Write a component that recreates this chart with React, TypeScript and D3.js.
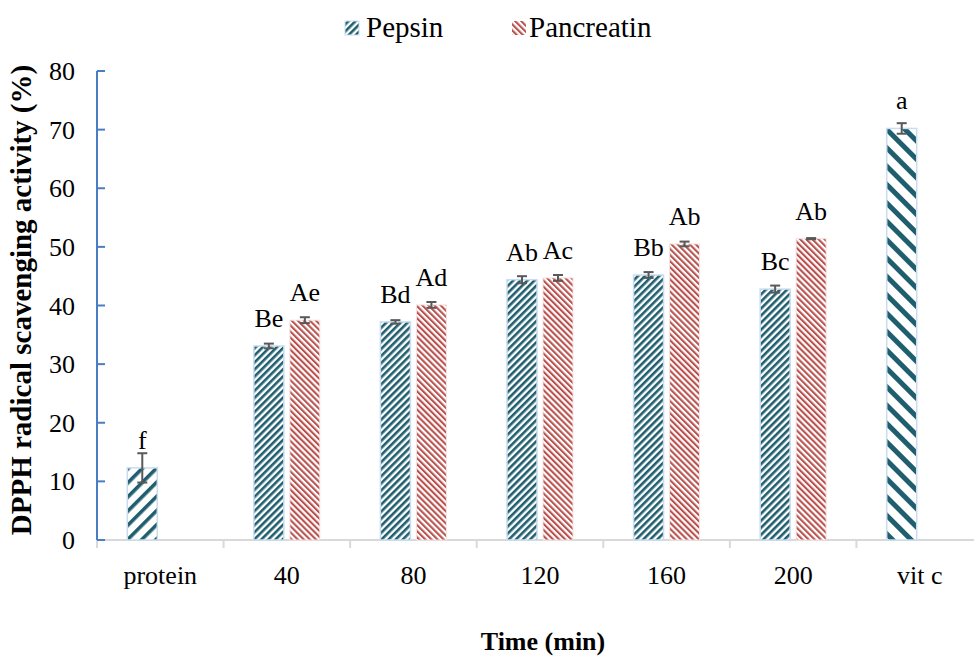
import React from "react";
import * as d3 from "d3";

const categories = ["protein", "40", "80", "120", "160", "200", "vit c"];
const pepsinValues = [12.3, 33.1, 37.2, 44.4, 45.2, 42.8, 70.2];
const pepsinErrors = [2.5, 0.4, 0.3, 0.6, 0.5, 0.6, 0.9];
const pepsinLabels = ["f", "Be", "Bd", "Ab", "Bb", "Bc", "a"];
const pancreatinValues: (number | null)[] = [null, 37.5, 40.1, 44.7, 50.5, 51.4, null];
const pancreatinErrors = [0, 0.5, 0.5, 0.5, 0.4, 0.1, 0];
const pancreatinLabels = ["", "Ae", "Ad", "Ac", "Ab", "Ab", ""];
const yTicks = [0, 10, 20, 30, 40, 50, 60, 70, 80];

const W = 974;
const H = 659;
const FONT = "'Liberation Serif', 'Times New Roman', serif";
const TEAL = "#1F5E6E";
const RED = "#B9514E";

export default function App() {
  const x = d3.scaleBand<string>().domain(categories).range([97, 983]).padding(0);
  const y = d3.scaleLinear().domain([0, 80]).range([540, 71]);
  const bw = 30;
  const off = 18;

  const pepFill = (i: number) =>
    i === 0 ? "url(#pProtein)" : i === 6 ? "url(#pVit)" : "url(#pPep)";

  return (
    <svg width={W} height={H} style={{ position: "absolute", left: 0, top: 0, background: "#fff" }}>
      <defs>
        <pattern id="pPep" patternUnits="userSpaceOnUse" width={5} height={5} patternTransform="rotate(45)">
          <rect x={0} y={0} width={5} height={5} fill="#fff" />
          <rect x={0} y={0} width={2.6} height={5} fill={TEAL} />
        </pattern>
        <pattern id="pPan" patternUnits="userSpaceOnUse" width={4.3} height={4.3} patternTransform="rotate(-45)">
          <rect x={0} y={0} width={4.3} height={4.3} fill="#fff" />
          <rect x={0} y={0} width={2.1} height={4.3} fill={RED} />
        </pattern>
        <pattern id="pProtein" patternUnits="userSpaceOnUse" width={10} height={10} patternTransform="rotate(45)">
          <rect x={0} y={0} width={10} height={10} fill="#fff" />
          <rect x={0} y={0} width={3.6} height={10} fill={TEAL} />
        </pattern>
        <pattern id="pVit" patternUnits="userSpaceOnUse" width={13} height={13} patternTransform="rotate(-45)">
          <rect x={0} y={0} width={13} height={13} fill="#fff" />
          <rect x={0} y={0} width={5} height={13} fill={TEAL} />
        </pattern>
      </defs>

      {/* x axis line */}
      <line x1={97} x2={983} y1={y(0)} y2={y(0)} stroke="#D9D9D9" strokeWidth={2} />
      {categories.map((c, i) => (
        <line key={"xt" + i} x1={x(c)!} x2={x(c)!} y1={y(0)} y2={y(0) + 8} stroke="#D9D9D9" strokeWidth={2} />
      ))}

      {/* bars */}
      {categories.map((c, i) => {
        const cx = x(c)! + x.bandwidth() / 2;
        const pv = pepsinValues[i];
        const px = cx - off;
        const els: React.ReactNode[] = [];
        els.push(
          <rect key={"pb" + i} x={px - bw / 2} y={y(pv)} width={bw} height={y(0) - y(pv)}
            fill={pepFill(i)} stroke="#C9DDF0" strokeWidth={1.5} />
        );
        const pe = pepsinErrors[i];
        els.push(
          <g key={"pe" + i} stroke="#595959" strokeWidth={2}>
            <line x1={px} x2={px} y1={y(pv + pe)} y2={y(pv - pe)} />
            <line x1={px - 5} x2={px + 5} y1={y(pv + pe)} y2={y(pv + pe)} />
            <line x1={px - 5} x2={px + 5} y1={y(pv - pe)} y2={y(pv - pe)} />
          </g>
        );
        els.push(
          <text key={"pl" + i} x={px} y={y(pv) - 19} textAnchor="middle" fontFamily={FONT} fontSize={26} fill="#000">
            {pepsinLabels[i]}
          </text>
        );
        const nv = pancreatinValues[i];
        if (nv != null) {
          const nx = cx + off;
          const ne = pancreatinErrors[i];
          els.push(
            <rect key={"nb" + i} x={nx - bw / 2} y={y(nv)} width={bw} height={y(0) - y(nv)}
              fill="url(#pPan)" stroke="#F4E3E3" strokeWidth={1} />
          );
          els.push(
            <g key={"ne" + i} stroke="#595959" strokeWidth={2}>
              <line x1={nx} x2={nx} y1={y(nv + ne)} y2={y(nv - ne)} />
              <line x1={nx - 5} x2={nx + 5} y1={y(nv + ne)} y2={y(nv + ne)} />
              <line x1={nx - 5} x2={nx + 5} y1={y(nv - ne)} y2={y(nv - ne)} />
            </g>
          );
          els.push(
            <text key={"nl" + i} x={nx} y={y(nv) - 19} textAnchor="middle" fontFamily={FONT} fontSize={26} fill="#000">
              {pancreatinLabels[i]}
            </text>
          );
        }
        return <g key={"c" + i}>{els}</g>;
      })}

      {/* y axis */}
      <line x1={97} x2={97} y1={y(80)} y2={y(0)} stroke="#4A7EC4" strokeWidth={2} />
      {yTicks.map((t) => (
        <g key={"yt" + t}>
          <line x1={97} x2={105} y1={y(t)} y2={y(t)} stroke="#4A7EC4" strokeWidth={2} />
          <text x={75} y={y(t)} dy="0.35em" textAnchor="end" fontFamily={FONT} fontSize={26} fill="#000">
            {t}
          </text>
        </g>
      ))}

      {/* x tick labels */}
      {categories.map((c) => (
        <text key={"xl" + c} x={x(c)! + x.bandwidth() / 2} y={584} textAnchor="middle" fontFamily={FONT} fontSize={26} fill="#000">
          {c}
        </text>
      ))}

      {/* axis titles */}
      <text x={543} y={650} textAnchor="middle" fontFamily={FONT} fontSize={26} fontWeight="bold" fill="#000">
        Time (min)
      </text>
      <text transform="translate(31,300) rotate(-90)" textAnchor="middle" fontFamily={FONT} fontSize={29} fontWeight="bold" fill="#000">
        DPPH radical scavenging activity (%)
      </text>

      {/* legend */}
      <rect x={345} y={21} width={14} height={14} fill="url(#pPep)" stroke="#C9DDF0" strokeWidth={1} />
      <text x={366} y={37} fontFamily={FONT} fontSize={29} fill="#000">Pepsin</text>
      <rect x={512} y={21} width={14} height={14} fill="url(#pPan)" />
      <text x={529} y={37} fontFamily={FONT} fontSize={29} fill="#000">Pancreatin</text>
    </svg>
  );
}
